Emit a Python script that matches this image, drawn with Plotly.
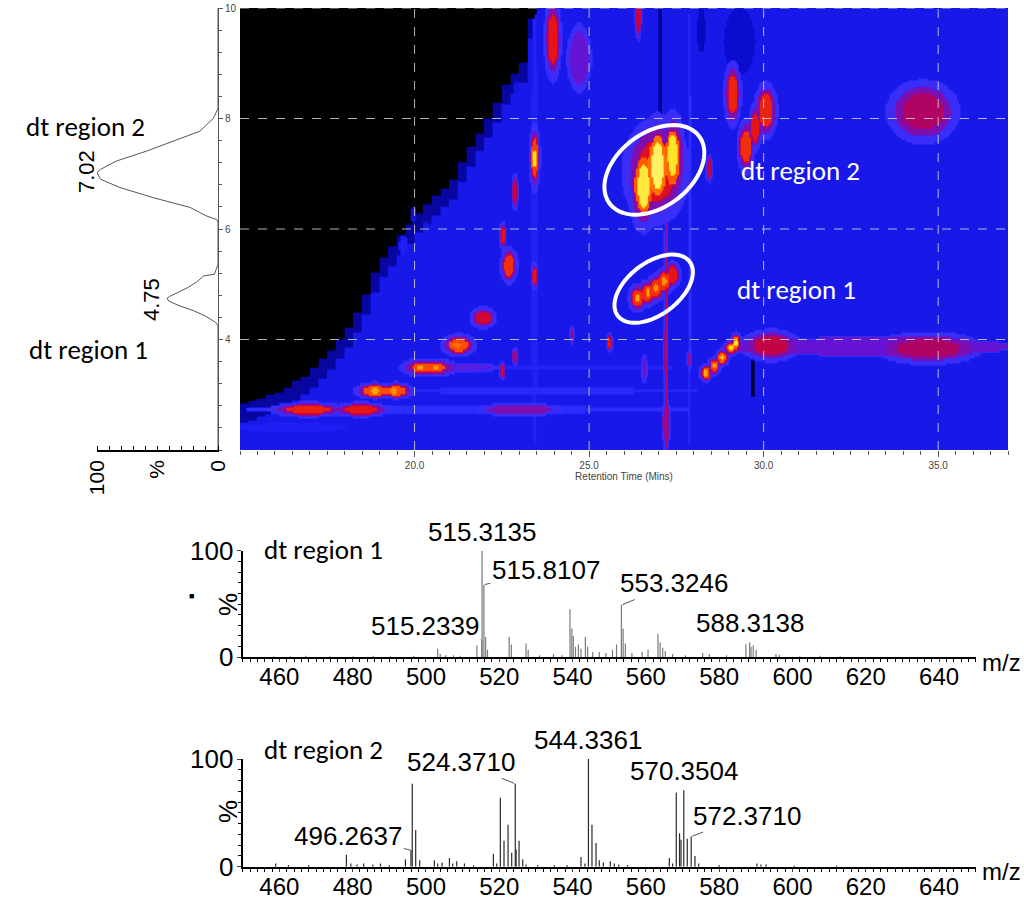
import numpy as np
import plotly.graph_objects as go

# ---------------- data ----------------
# summed drift-time profile (mobilogram), drawn rotated on the left
mob_dt = [2.0, 4.25, 4.31, 4.42, 4.52, 4.62, 4.70, 4.75, 4.78, 4.85, 4.94, 5.05, 5.15, 5.18, 5.25, 5.36,
          6.12, 6.17, 6.24, 6.39, 6.57, 6.75, 6.90, 7.02, 7.08, 7.23, 7.41, 7.59, 7.77, 8.00, 8.18, 10.0]
mob_int = [0, 0, 2, 10, 20, 33, 41, 42, 40, 33, 25, 17, 12, 3, 2, 0,
           0, 1, 10, 23, 54, 81, 97, 100, 97, 84, 59, 37, 15, 4, 0, 0]

# heatmap: drift time above which the map is black, per 0.25 min column
edge_rt = [15.0, 15.25, 15.5, 15.75, 16.0, 16.25, 16.5, 16.75, 17.0, 17.25, 17.5, 17.75, 18.0, 18.25,
           18.5, 18.75, 19.0, 19.25, 19.5, 19.75, 20.0, 20.25, 20.5, 20.75, 21.0, 21.25, 21.5, 21.75,
           22.0, 22.25, 22.5, 22.75, 23.0, 23.25]
edge_dt = [2.85, 2.9, 2.95, 3.0, 3.05, 3.15, 3.25, 3.35, 3.5, 3.65, 3.8, 4.0, 4.2, 4.5,
           4.8, 5.2, 5.5, 5.7, 5.9, 6.1, 6.3, 6.45, 6.6, 6.75, 6.9, 7.2, 7.5, 7.75,
           8.0, 8.3, 8.6, 8.8, 9.0, 9.8]

# features: (retention time, drift time, half width rt, half width dt, level)
streaks = [(21.5, 2.74, 6.6, 0.07, 0.50), (16.5, 2.41, 1.6, 0.08, 0.45), (23.5, 3.08, 4.6, 0.05, 0.49),
           (23.8, 3.50, 3.9, 0.05, 0.47), (23.43, 6.0, 0.1, 4.0, 0.46), (27.86, 6.0, 0.05, 4.0, 0.50),
           (33.0, 3.88, 4.2, 0.17, 0.58)]
blue_blobs = [(19.66, 5.71, 0.12, 0.2, 0.45), (20.3, 5.96, 0.1, 0.2, 0.38), (19.95, 6.26, 0.08, 0.15, 0.38),
              (19.4, 5.0, 0.1, 0.15, 0.40), (19.0, 4.4, 0.1, 0.3, 0.40), (19.67, 3.6, 0.1, 0.12, 0.42),
              (22.3, 7.6, 0.1, 0.3, 0.40), (22.9, 8.3, 0.1, 0.4, 0.40)]
red_spots = [(16.95, 2.74, 0.65, 0.08, 0.74), (18.45, 2.74, 0.5, 0.08, 0.72), (23.0, 2.74, 0.7, 0.07, 0.60),
             (18.85, 3.08, 0.35, 0.09, 0.80), (19.45, 3.08, 0.3, 0.09, 0.80), (20.4, 3.5, 0.5, 0.1, 0.80),
             (21.4, 3.5, 0.6, 0.05, 0.56), (21.25, 3.91, 0.3, 0.12, 0.80), (21.95, 4.4, 0.22, 0.12, 0.68),
             (22.5, 3.45, 0.05, 0.1, 0.70), (22.86, 3.7, 0.05, 0.1, 0.62), (22.69, 5.35, 0.15, 0.2, 0.76),
             (22.51, 5.89, 0.06, 0.15, 0.72), (22.86, 6.68, 0.06, 0.2, 0.66), (23.43, 7.3, 0.1, 0.35, 0.78),
             (23.43, 5.15, 0.06, 0.15, 0.72), (23.95, 9.45, 0.15, 0.45, 0.72), (24.7, 9.1, 0.2, 0.35, 0.58),
             (24.5, 4.1, 0.04, 0.1, 0.62), (25.57, 3.95, 0.06, 0.1, 0.72), (26.4, 9.85, 0.06, 0.25, 0.66),
             (26.9, 7.05, 0.55, 0.55, 0.70),
             (26.55, 6.8, 0.26, 0.5, 0.82), (26.95, 7.15, 0.26, 0.55, 0.84), (27.38, 7.3, 0.22, 0.5, 0.82),
             (26.38, 4.76, 0.16, 0.15, 0.76), (26.67, 4.85, 0.16, 0.15, 0.76), (26.9, 4.94, 0.16, 0.15, 0.76),
             (27.14, 5.06, 0.16, 0.15, 0.76), (27.38, 5.18, 0.14, 0.15, 0.72), (27.19, 3.8, 0.03, 1.8, 0.64),
             (28.43, 7.1, 0.06, 0.15, 0.66), (29.1, 8.45, 0.15, 0.35, 0.74), (29.48, 7.5, 0.15, 0.3, 0.76),
             (29.75, 7.85, 0.12, 0.25, 0.72), (30.05, 8.15, 0.2, 0.3, 0.74), (34.55, 8.13, 0.6, 0.33, 0.64),
             (28.33, 3.4, 0.12, 0.1, 0.78), (28.57, 3.53, 0.12, 0.1, 0.78), (28.8, 3.68, 0.12, 0.1, 0.80),
             (29.05, 3.86, 0.12, 0.1, 0.80), (29.2, 3.95, 0.1, 0.12, 0.82), (30.2, 3.9, 0.5, 0.17, 0.66),
             (34.7, 3.85, 0.9, 0.17, 0.64), (27.2, 2.5, 0.08, 0.25, 0.60), (27.86, 3.65, 0.04, 0.12, 0.68),
             (26.57, 3.48, 0.05, 0.15, 0.58)]
hot_cores = [(18.85, 3.08, 0.12, 0.05, 0.88), (19.4, 3.08, 0.1, 0.05, 0.86), (20.15, 3.5, 0.1, 0.05, 0.88),
             (20.6, 3.5, 0.1, 0.05, 0.87), (21.2, 3.91, 0.12, 0.05, 0.84), (23.43, 7.28, 0.06, 0.15, 0.93),
             (26.55, 6.78, 0.17, 0.38, 0.95), (26.95, 7.15, 0.17, 0.42, 0.97), (27.38, 7.35, 0.14, 0.36, 0.94),
             (26.38, 4.76, 0.07, 0.08, 0.88), (26.67, 4.85, 0.07, 0.08, 0.88), (26.9, 4.94, 0.07, 0.08, 0.86),
             (27.14, 5.06, 0.07, 0.08, 0.86), (28.33, 3.4, 0.06, 0.05, 0.88), (28.57, 3.53, 0.06, 0.05, 0.88),
             (28.8, 3.68, 0.06, 0.05, 0.9), (29.05, 3.86, 0.06, 0.05, 0.92), (29.2, 3.95, 0.06, 0.07, 0.95)]
dark_patches = [(29.3, 9.4, 0.45, 0.6, 0.36), (27.02, 9.0, 0.07, 1.1, 0.26), (29.67, 3.3, 0.06, 0.35, 0.08),
                (28.2, 9.6, 0.12, 0.4, 0.34)]

rt_ticks = [20, 25, 30, 35]
dt_ticks = [4, 6, 8, 10]

# mass spectra (m/z, relative intensity %)
mz1 = [458.5, 463.0, 467.2, 473.8, 480.1, 485.6, 490.3, 496.7, 503.2, 503.9, 505.4, 507.5, 509.3, 513.9,
       515.2339, 515.3135, 515.8107, 516.3, 516.8, 522.7, 523.3, 527.3, 527.9, 531.0, 534.8, 537.1, 539.3,
       539.8, 540.2, 540.8, 541.6, 542.3, 543.5, 544.1, 545.5, 547.3, 549.1, 550.9, 552.0, 553.3246, 553.8,
       554.4, 556.2, 559.0, 560.6, 563.3, 563.9, 564.6, 565.3, 567.3, 570.8, 575.5, 577.3, 582.0, 587.3,
       588.3138, 588.7, 589.3, 590.1, 595.5, 596.4, 602.0, 607.5, 613.0]
int1 = [1, 1, 1.5, 1, 1, 1.5, 1, 1.5, 8, 3, 2, 2, 1.5, 11, 16, 100, 68, 19, 7, 19, 12, 13, 7, 2, 3, 2, 45,
        27, 20, 10, 12, 8, 19, 10, 5, 5, 4, 7, 12, 49, 27, 13, 4, 5, 7, 22, 14, 9, 6, 3, 2, 4, 3, 2, 12, 14,
        10, 11, 7, 3, 2.5, 1, 1.5, 1]
mz2 = [459.0, 462.5, 468.0, 478.3, 479.5, 481.2, 483.0, 485.5, 487.6, 490.0, 494.4, 495.9, 496.2637, 497.2,
       498.3, 502.3, 503.2, 504.4, 506.4, 507.3, 508.4, 510.5, 513.0, 518.4, 519.3, 520.3, 521.3, 522.4,
       523.4, 524.3710, 524.6, 525.4, 526.4, 527.3, 530.5, 535.0, 538.5, 542.3, 543.4, 544.3361, 545.3,
       546.4, 547.3, 548.4, 550.3, 551.4, 552.6, 555.0, 566.4, 567.3, 568.3, 569.2, 569.6, 570.3504, 571.3,
       572.3710, 573.4, 574.4, 580.0, 590.3, 591.4, 592.8, 600.5, 612.0]
int2 = [3, 1.5, 1.5, 11, 3, 2, 3, 2, 3, 1.5, 7, 15, 77, 34, 6, 6, 3, 4, 8, 3, 5, 3, 1.5, 12, 3, 64, 24, 39,
        13, 77, 16, 24, 7, 2, 1.5, 1.5, 1.5, 9, 3, 100, 39, 22, 6, 4, 5, 3, 2, 1.5, 8, 3, 69, 31, 25, 71, 26,
        28, 10, 3, 1.5, 3, 2, 2, 1, 1]

# labelled peaks: (m/z, leader end intensity, text)
labels1 = [(515.3135, 100, "515.3135"), (515.8107, 68, "515.8107"), (553.3246, 49, "553.3246"),
           (515.2339, 16, "515.2339"), (588.3138, 14, "588.3138")]
labels2 = [(496.2637, 15, "496.2637"), (524.3710, 77, "524.3710"), (544.3361, 100, "544.3361"),
           (570.3504, 71, "570.3504"), (572.3710, 28, "572.3710")]

# ---------------- build the drift/retention map ----------------
rt_grid = np.round(np.arange(15.0, 37.0001, 0.05), 3)
dt_grid = np.round(np.arange(2.0, 10.0001, 0.04), 3)
RT, DT = np.meshgrid(rt_grid, dt_grid)
z = np.full(RT.shape, 0.42)
for start, edge in zip(edge_rt, edge_dt):
    col = (RT >= start) & (RT < start + 0.25)
    z[col & (DT > edge - 0.35) & (DT <= edge)] = 0.30
    z[col & (DT > edge)] = 0.0


def inside(rt, dt, wr, wd, scale=1.0):
    return ((RT - rt) / (wr * scale)) ** 2 + ((DT - dt) / (wd * scale)) ** 2 <= 1


def raise_to(m, lv):
    z[m] = np.maximum(z[m], lv)


for rt, dt, wr, wd, lv in dark_patches:
    m = inside(rt, dt, wr, wd)
    z[m] = np.minimum(z[m], lv)
for group in (streaks, blue_blobs):
    for rt, dt, wr, wd, lv in group:
        raise_to(inside(rt, dt, wr, wd), lv)
# soft rims round the coloured spots
for rt, dt, wr, wd, lv in red_spots:
    raise_to(inside(rt, dt, wr, wd, 1.8), 0.53)
for rt, dt, wr, wd, lv in red_spots:
    raise_to(inside(rt, dt, wr, wd, 1.35), min(lv, 0.6))
for group in (red_spots, hot_cores):
    for rt, dt, wr, wd, lv in group:
        raise_to(inside(rt, dt, wr, wd), lv)
z = np.round(z, 3)

colorscale = [[0.0, "#000000"], [0.2, "#000050"], [0.35, "#0a0ac8"], [0.45, "#1e1ef5"],
              [0.52, "#3232ff"], [0.58, "#6414d2"], [0.65, "#be0050"], [0.72, "#e61414"],
              [0.82, "#ff5a00"], [0.92, "#ffdc00"], [1.0, "#ffffa0"]]

W, H = 1024, 900


def px(x):
    return x / W


def py(y):
    return 1 - y / H


fig = go.Figure()

fig.add_trace(go.Heatmap(x=rt_grid, y=dt_grid, z=z, zmin=0, zmax=1, colorscale=colorscale,
                         zsmooth="best", showscale=False, hoverinfo="skip", xaxis="x", yaxis="y"))

fig.add_trace(go.Scatter(x=mob_int, y=mob_dt, mode="lines", line=dict(color="#555555", width=1),
                         xaxis="x2", yaxis="y", hoverinfo="skip"))


def sticks(mz, inten):
    xs, ys = [], []
    for m, i in zip(mz, inten):
        xs += [m, m, None]
        ys += [0, i, None]
    return xs, ys


x1, y1 = sticks(mz1, int1)
fig.add_trace(go.Scatter(x=x1, y=y1, mode="lines", line=dict(color="#7a7a7a", width=1.2),
                         xaxis="x3", yaxis="y3", hoverinfo="skip"))
x2, y2 = sticks(mz2, int2)
fig.add_trace(go.Scatter(x=x2, y=y2, mode="lines", line=dict(color="#2a2a2a", width=1.2),
                         xaxis="x4", yaxis="y4", hoverinfo="skip"))

tickfont_small = dict(family="Liberation Sans Narrow, Liberation Sans, Arial", size=10, color="#444444")
spec_font = dict(family="Liberation Sans, Arial", size=26, color="black")
spec_tick = dict(family="Liberation Sans, Arial", size=24, color="black")
cal_font = "Carlito, Lato, sans-serif"

spec_x = dict(range=[450, 650], showline=True, linecolor="black", linewidth=2, ticks="outside",
              ticklen=3, tickwidth=1, tick0=0, dtick=20, tickfont=spec_tick, showgrid=False,
              zeroline=False, automargin=False, ticklabelstandoff=-6,
              minor=dict(dtick=2, ticks="outside", ticklen=3, tickcolor="black"))
spec_y = dict(range=[0, 100], showline=True, linecolor="black", linewidth=2, ticks="outside",
              ticklen=4, tickvals=[0, 100], tickfont=spec_font, showgrid=False, zeroline=False,
              automargin=False, ticklabelstandoff=-2,
              minor=dict(dtick=10, ticks="outside", ticklen=3, tickcolor="black"))

fig.update_layout(
    width=W, height=H, margin=dict(l=0, r=0, t=0, b=0, pad=0, autoexpand=False),
    paper_bgcolor="white", plot_bgcolor="white", showlegend=False,
    xaxis=dict(domain=[px(240), px(1008)], range=[15, 37], anchor="y", showgrid=False, zeroline=False,
               tickvals=rt_ticks, ticktext=["%.1f" % t for t in rt_ticks], ticks="outside", ticklen=6,
               tickcolor="#555555", tickfont=tickfont_small, automargin=False,
               minor=dict(dtick=0.5, ticks="outside", ticklen=4, tickcolor="#555555"),
               title=dict(text="Retention Time (Mins)", font=tickfont_small, standoff=0)),
    yaxis=dict(domain=[py(450), py(8)], range=[2, 10], anchor="x2", side="right", showgrid=False,
               zeroline=False, showline=True, linecolor="#555555", linewidth=1, ticks="outside",
               ticklen=4, tickcolor="#555555", tickvals=dt_ticks, ticktext=[str(t) for t in dt_ticks],
               tickfont=tickfont_small, automargin=False,
               minor=dict(dtick=0.4, ticks="outside", ticklen=3, tickcolor="#555555")),
    xaxis2=dict(domain=[px(97), px(218)], range=[100, 0], anchor="y", showgrid=False, zeroline=False,
                showline=True, linecolor="black", linewidth=1.5, tickvals=[0, 50, 100],
                ticktext=["0", "%", "100"], tickangle=-90, ticks="", automargin=False,
                tickfont=dict(family="Liberation Sans, Arial", size=21, color="black"),
                minor=dict(dtick=10, ticks="inside", ticklen=4, tickcolor="black")),
    xaxis3=dict(domain=[px(242.7), px(975.7)], anchor="y3", **spec_x),
    yaxis3=dict(domain=[py(657.3), py(550.7)], anchor="x3", **spec_y),
    xaxis4=dict(domain=[px(242.7), px(975.7)], anchor="y4", **spec_x),
    yaxis4=dict(domain=[py(866.7), py(759)], anchor="x4", **spec_y),
)

# dashed grid over the map
shapes = []
for t in rt_ticks:
    shapes.append(dict(type="line", xref="x", yref="y", x0=t, x1=t, y0=2, y1=10, layer="above",
                       line=dict(color="rgba(210,210,210,0.85)", width=1, dash="dash")))
for t in dt_ticks:
    shapes.append(dict(type="line", xref="x", yref="y", x0=15, x1=37, y0=t, y1=t, layer="above",
                       line=dict(color="rgba(210,210,210,0.85)", width=1, dash="dash")))

# white ellipses marking the two drift-time regions
px_per_rt = (1008 - 240) / 22.0
px_per_dt = (450 - 8) / 8.0
for c_rt, c_dt, a, b, ang in [(26.87, 7.07, 56, 37, 37), (26.85, 4.92, 45, 26, 37)]:
    t = np.linspace(0, 2 * np.pi, 90)
    th = np.radians(ang)
    ex = a * np.cos(t) * np.cos(th) - b * np.sin(t) * np.sin(th)
    ey = a * np.cos(t) * np.sin(th) + b * np.sin(t) * np.cos(th)
    pts = ["%.4f,%.4f" % (c_rt + u / px_per_rt, c_dt + v / px_per_dt) for u, v in zip(ex, ey)]
    shapes.append(dict(type="path", xref="x", yref="y", path="M" + " L".join(pts) + " Z",
                       line=dict(color="white", width=4), layer="above"))
fig.update_layout(shapes=shapes)

ann = []
# map labels
for x, y, txt, col in [(800, 171, "dt region 2", "white"), (796, 290, "dt region 1", "white"),
                       (85, 127, "dt region 2", "black"), (88, 350, "dt region 1", "black"),
                       (323, 549, "dt region 1", "black"), (323, 749, "dt region 2", "black")]:
    ann.append(dict(xref="paper", yref="paper", x=px(x), y=py(y), text=txt, showarrow=False,
                    font=dict(family=cal_font, size=27, color=col), xanchor="center", yanchor="middle"))
for x, y, txt in [(86, 172, "7.02"), (152, 300, "4.75")]:
    ann.append(dict(xref="paper", yref="paper", x=px(x), y=py(y), text=txt, showarrow=False,
                    textangle=-90, font=dict(family="Liberation Sans, Arial", size=22, color="black"),
                    xanchor="center", yanchor="middle"))
for y in [605, 812]:
    ann.append(dict(xref="paper", yref="paper", x=px(228), y=py(y), text="%", showarrow=False,
                    textangle=-90, font=spec_font, xanchor="center", yanchor="middle"))
for y in [662, 871]:
    ann.append(dict(xref="paper", yref="paper", x=px(1001), y=py(y), text="m/z", showarrow=False,
                    font=dict(family="Liberation Sans, Arial", size=24, color="black"),
                    xanchor="center", yanchor="middle"))
ann.append(dict(xref="paper", yref="paper", x=px(187), y=py(604), text="■", showarrow=False,
                font=dict(size=9, color="black")))

# peak labels: pixel offsets of the text from the peak top (None = straight above)
offsets1 = [None, (62, -15), (53, -22), (-57, -14), None]
offsets2 = [(-64, -15), (-54, -22), None, None, (56, -21)]
for (labels, off, xr, yr) in [(labels1, offsets1, "x3", "y3"), (labels2, offsets2, "x4", "y4")]:
    for (m, i, txt), o in zip(labels, off):
        if o is None:
            ann.append(dict(xref=xr, yref=yr, x=m, y=i, text=txt, showarrow=False, yanchor="bottom",
                            yshift=2, font=spec_font))
        else:
            ann.append(dict(xref=xr, yref=yr, x=m, y=i, text=txt, showarrow=True, arrowhead=0,
                            arrowwidth=1, arrowcolor="#555555", ax=o[0], ay=o[1], standoff=1,
                            font=spec_font))
fig.update_layout(annotations=ann)

fig.write_html("out.html", config={"displayModeBar": False},
               post_script="document.body.style.margin='0';")
